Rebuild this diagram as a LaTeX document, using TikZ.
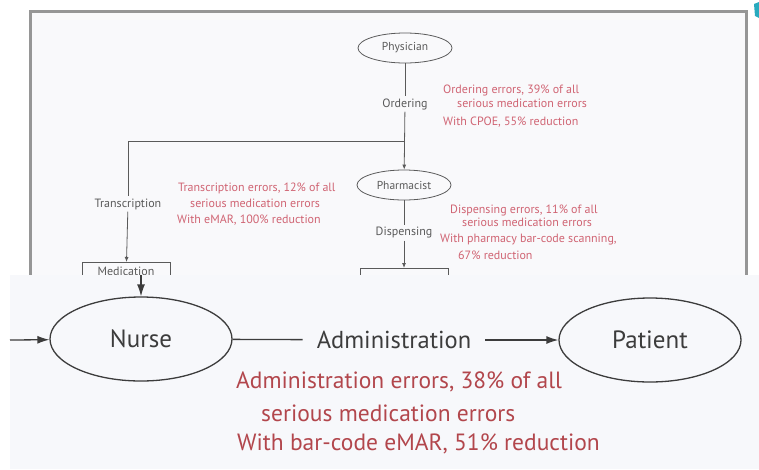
\documentclass[tikz,border=0pt]{standalone}
\usepackage{fontspec}
\setmainfont{PT Sans}
\usetikzlibrary{shapes.geometric,arrows.meta}
\definecolor{errred}{RGB}{178,70,76}
\definecolor{toperr}{RGB}{208,100,115}
\definecolor{ink}{RGB}{60,60,60}
\definecolor{topink}{RGB}{90,90,90}
\definecolor{panelbg}{RGB}{247,248,251}
\definecolor{framebg}{RGB}{249,249,251}
\definecolor{framegray}{RGB}{150,150,150}
\definecolor{tealmark}{RGB}{40,170,190}
\begin{document}
\begin{tikzpicture}[x=1pt,y=-1pt,
  smallell/.style={ellipse,draw=topink,line width=0.8pt,minimum width=94pt,minimum height=30pt,inner sep=0pt,font=\fontsize{11.5}{14}\selectfont,text=topink},
  smalllbl/.style={font=\fontsize{12}{14}\selectfont,text=topink,inner sep=2pt},
  smallred/.style={font=\fontsize{12}{14}\selectfont,text=toperr,anchor=west,inner sep=0pt},
  smallbox/.style={draw=topink,line width=0.8pt,minimum width=88pt,anchor=north,inner xsep=2pt,inner ysep=4.5pt,text depth=20pt,font=\fontsize{12}{14}\selectfont,text=topink},
  topline/.style={draw=topink,line width=0.8pt},
  toparrow/.style={topline,-{Latex[length=5pt,width=4pt]}},
  bigell/.style={ellipse,draw=ink,line width=1.3pt,minimum width=182pt,minimum height=84pt,inner sep=0pt,font=\fontsize{25}{30}\selectfont,text=ink},
  biglbl/.style={font=\fontsize{24.5}{30}\selectfont,text=ink,inner ysep=0pt},
  bigred/.style={font=\fontsize{23.5}{30}\selectfont,text=errred,anchor=west,inner sep=0pt},
  bigline/.style={draw=ink,line width=1.3pt},
  bigarrow/.style={bigline,-{Latex[length=12pt,width=8pt]}}
]
\useasboundingbox (0,0) rectangle (759,469);
\fill[white] (0,0) rectangle (759,469);
% outer frame of the small diagram
\filldraw[fill=framebg,draw=framegray,line width=3pt] (30,11) rectangle (746,330);
\fill[tealmark] (754,4) -- (759,2) -- (759,18) -- (755,16) -- cycle;

% small diagram nodes
\node[smallell] (phys) at (405,48) {Physician};
\node[smalllbl] (ord) at (405,104) {Ordering};
\node[smallell] (pharm) at (404,185) {Pharmacist};
\node[smalllbl] (disp) at (404,233) {Dispensing};
\node[smalllbl] (trans) at (128,204) {Transcription};
\node[smallbox] (med) at (126,262) {Medication};
\node[smallbox] (disbox) at (404,268) {};
\coordinate (split) at (405,141);
\coordinate (corner) at (128,141);

\draw[topline] (phys) -- (ord);
\draw[toparrow] (ord) -- (pharm);
\draw[topline] (split) -- (corner) -- (trans);
\draw[toparrow] (trans) -- (med);
\draw[topline] (pharm) -- (disp);
\draw[toparrow] (disp) -- (disbox);

% small red notes
\node[smallred] (o1) at (443,90) {Ordering errors, 39\% of all};
\node[smallred] (o2) at (457,103) {serious medication errors};
\node[smallred] (o3) at (443,122) {With CPOE, 55\% reduction};
\node[smallred] (t1) at (178,188) {Transcription errors, 12\% of all};
\node[smallred] (t2) at (190,203) {serious medication errors};
\node[smallred] (t3) at (177,220) {With eMAR, 100\% reduction};
\node[smallred] (d1) at (450,210) {Dispensing errors, 11\% of all};
\node[smallred] (d2) at (462,222) {serious medication errors};
\node[smallred] (d3) at (440,240) {With pharmacy bar-code scanning,};
\node[smallred] (d4) at (458,255) {67\% reduction};

% enlarged panel
\fill[panelbg] (10,275) rectangle (759,469);
\node[bigell] (nurse) at (141,339) {Nurse};
\node[bigell] (patient) at (650,340) {Patient};
\node[biglbl,inner xsep=14pt] (admin) at (394,340) {Administration};
\coordinate (inleft) at (10,340);
\coordinate (intop) at (141,275);
\draw[bigarrow] (inleft) -- (nurse);
\draw[bigarrow] (intop) -- (nurse);
\draw[bigline] (nurse) -- (admin);
\draw[bigarrow] (admin) -- (patient);

\node[bigred] (a1) at (236,382) {Administration errors, 38\% of all};
\node[bigred] (a2) at (261,413) {serious medication errors};
\node[bigred] (a3) at (237,444) {With bar-code eMAR, 51\% reduction};
\end{tikzpicture}
\end{document}
